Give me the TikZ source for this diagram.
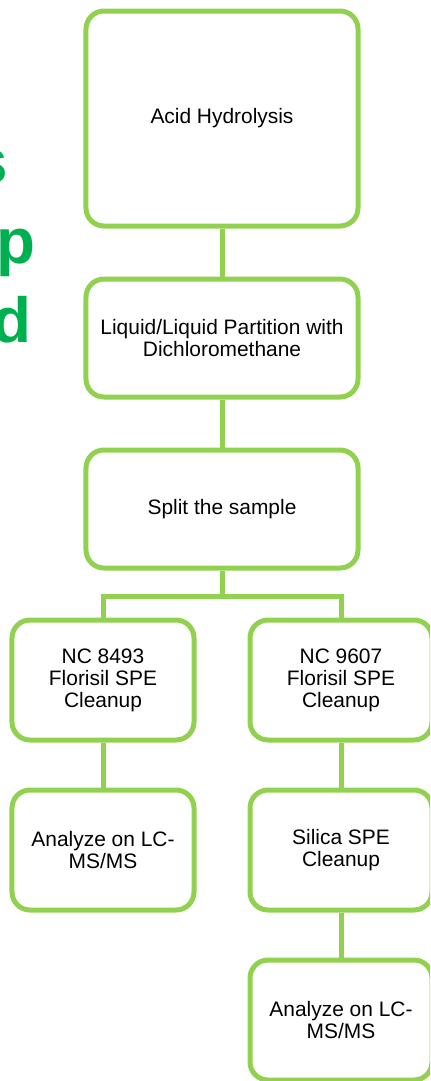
\documentclass[tikz,border=0pt]{standalone}
\usepackage{fontspec}
\setmainfont{Liberation Sans}
\definecolor{boxgreen}{HTML}{92D050}
\definecolor{titlegreen}{HTML}{00B050}

\begin{document}
\begin{tikzpicture}[x=1bp, y=-1bp,
    stepbox/.style={draw=boxgreen, line width=5bp, rounded corners=18bp,
        fill=white, inner sep=0pt, align=center,
        font=\fontsize{21}{22}\selectfont},
    widebox/.style={stepbox, minimum width=272bp, minimum height=118bp},
    narrowbox/.style={stepbox, minimum width=182bp, minimum height=120bp},
    link/.style={draw=boxgreen, line width=5bp},
    titlebit/.style={anchor=base west, inner sep=0pt, text=titlegreen,
        font=\fontsize{64}{64}\selectfont\bfseries}]

    % page frame, everything outside is cut away
    \useasboundingbox (0,0) rectangle (430,1081);
    \clip (0,0) rectangle (430,1081);

    % 1) Title letters, cut at the left edge
    \node[titlebit] (titles) at (-28,183) {s};
    \node[titlebit] (titlep) at (-4,263) {p};
    \node[titlebit] (titled) at (-8,342) {d};

    % 2) Main column
    \node[widebox, minimum height=215bp] (hydro) at (222,118.5) {Acid Hydrolysis};
    \node[widebox] (partition) at (222,338) {Liquid/Liquid Partition with\\Dichloromethane};
    \node[widebox] (split) at (222,509) {Split the sample};

    % 3) Left branch
    \node[narrowbox] (nc8493) at (103,680) {NC 8493\\Florisil SPE\\Cleanup};
    \node[narrowbox] (analyzeleft) at (103,850) {Analyze on LC-\\MS/MS};

    % 4) Right branch
    \node[narrowbox] (nc9607) at (341,680) {NC 9607\\Florisil SPE\\Cleanup};
    \node[narrowbox] (silica) at (341,850) {Silica SPE\\Cleanup};
    \node[narrowbox] (analyzeright) at (341,1020) {Analyze on LC-\\MS/MS};

    % 5) Connectors
    \draw[link] (hydro.south) -- (partition.north);
    \draw[link] (partition.south) -- (split.north);
    \draw[link] (split.south) -- ++(0,26) coordinate (fork);
    \draw[link] (nc8493.north) |- (fork) -| (nc9607.north);
    \draw[link] (nc8493.south) -- (analyzeleft.north);
    \draw[link] (nc9607.south) -- (silica.north);
    \draw[link] (silica.south) -- (analyzeright.north);

\end{tikzpicture}
\end{document}
